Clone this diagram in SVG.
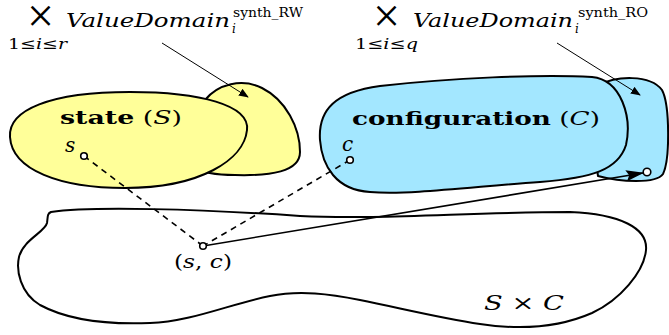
<svg xmlns="http://www.w3.org/2000/svg" width="669" height="335" viewBox="0 0 669 335">
<style>
.blob{stroke:#000;stroke-width:2;stroke-linejoin:round}
.yel{fill:#ffff99}
.blu{fill:#a3e7ff}
.t{font-family:"DejaVu Serif","Liberation Serif",serif;fill:#000}
.x{font-family:"Liberation Serif","DejaVu Serif",serif;fill:#000;font-size:48px}
.it{font-style:italic}
.b{font-weight:bold}
.dot{fill:#fff;stroke:#000;stroke-width:1.6}
</style>
<defs>
<marker id="ah" markerWidth="10" markerHeight="8" refX="9" refY="4" orient="auto" markerUnits="userSpaceOnUse">
<path d="M0,0 L10,4 L0,8 Z" fill="#000"/>
</marker>
<marker id="ahb" markerWidth="18" markerHeight="11" refX="17" refY="5.5" orient="auto" markerUnits="userSpaceOnUse">
<path d="M0,0 L18,5.5 L0,11 L3,5.5 Z" fill="#000"/>
</marker>
</defs>
<g id="SxC">
<path class="blob" fill="none" d="M51,212 C90,206 200,209 300,216 C380,220 470,212 570,212 C620,214 648,228 646,250 C644,272 620,300 592,313 C560,327 520,330 480,324 C440,318 400,308 360,300 C330,294 300,290 270,296 C230,304 190,322 150,323 C100,325 64,318 40,305 C20,293 16,270 19,257 C23,240 45,232 47,223 C48,216 47,214 51,212 Z"/>
<text class="t it" x="484" y="310" font-size="21" textLength="80" lengthAdjust="spacingAndGlyphs">S <tspan font-style="normal">×</tspan> C</text>
</g>
<g id="valueRW">
<path class="blob yel" d="M205,100 C218,84 242,78 262,88 C286,100 300,128 300,152 C300,172 270,176 235,175 C215,175 200,172 198,168 L205,100 Z"/>
</g>
<g id="state">
<path class="blob yel" d="M10,137 C8,110 50,92 130,92 C200,92 250,105 247,130 C244,160 200,188 125,188 C60,188 12,170 10,137 Z"/>
<text class="t" x="60" y="124" font-size="19" textLength="122" lengthAdjust="spacingAndGlyphs"><tspan class="b">state</tspan> (<tspan class="it">S</tspan>)</text>
</g>
<g id="valueRO">
<path class="blob blu" d="M600,85 C615,76 650,74 662,90 C670,105 670,160 663,174 C656,184 620,182 598,176 L590,120 Z"/>
</g>
<g id="configuration">
<path class="blob blu" d="M320,140 C318,110 335,92 380,86 C450,78 540,74 592,77 C622,80 632,118 626,145 C618,170 592,178 540,182 C470,187 410,195 370,192 C336,190 322,166 320,140 Z"/>
<text class="t" x="352" y="125" font-size="19" textLength="248" lengthAdjust="spacingAndGlyphs"><tspan class="b">configuration</tspan> (<tspan class="it">C</tspan>)</text>
</g>
<g id="labelRW">
<text class="x" x="27" y="32">×</text>
<text class="t it" x="66" y="27" font-size="19" textLength="164" lengthAdjust="spacingAndGlyphs">ValueDomain</text>
<text class="t" x="233" y="17" font-size="12" textLength="70" lengthAdjust="spacingAndGlyphs">synth_RW</text>
<text class="t it" x="232" y="33" font-size="12">i</text>
<text class="t" x="8" y="49" font-size="15" textLength="59" lengthAdjust="spacingAndGlyphs">1≤<tspan class="it">i</tspan>≤<tspan class="it">r</tspan></text>
</g>
<g id="labelRO">
<text class="x" x="373" y="32">×</text>
<text class="t it" x="413" y="27" font-size="19" textLength="160" lengthAdjust="spacingAndGlyphs">ValueDomain</text>
<text class="t" x="578" y="17" font-size="12" textLength="70" lengthAdjust="spacingAndGlyphs">synth_RO</text>
<text class="t it" x="575" y="33" font-size="12">i</text>
<text class="t" x="355" y="49" font-size="15" textLength="63" lengthAdjust="spacingAndGlyphs">1≤<tspan class="it">i</tspan>≤<tspan class="it">q</tspan></text>
</g>
<g id="connectors" stroke="#000" fill="none">
<line x1="162" y1="43" x2="248" y2="97" stroke-width="1" marker-end="url(#ah)"/>
<line x1="557" y1="43" x2="640" y2="95" stroke-width="1" marker-end="url(#ah)"/>
<line x1="84" y1="156" x2="203" y2="246" stroke-width="1.6" stroke-dasharray="6,5"/>
<line x1="350" y1="160" x2="203" y2="246" stroke-width="1.6" stroke-dasharray="6,5"/>
<line x1="203" y1="246" x2="643" y2="173" stroke-width="1.6" marker-end="url(#ahb)"/>
</g>
<g id="points">
<circle class="dot" cx="84" cy="156" r="3.3"/>
<circle class="dot" cx="350" cy="160" r="3.3"/>
<circle class="dot" cx="203" cy="246" r="3.3"/>
<circle class="dot" cx="647" cy="172" r="3.8"/>
<text class="t it" x="65" y="152" font-size="20">s</text>
<text class="t it" x="342" y="151" font-size="20">c</text>
<text class="t" x="174" y="268" font-size="19" textLength="58" lengthAdjust="spacingAndGlyphs">(<tspan class="it">s</tspan>, <tspan class="it">c</tspan>)</text>
</g>
</svg>
